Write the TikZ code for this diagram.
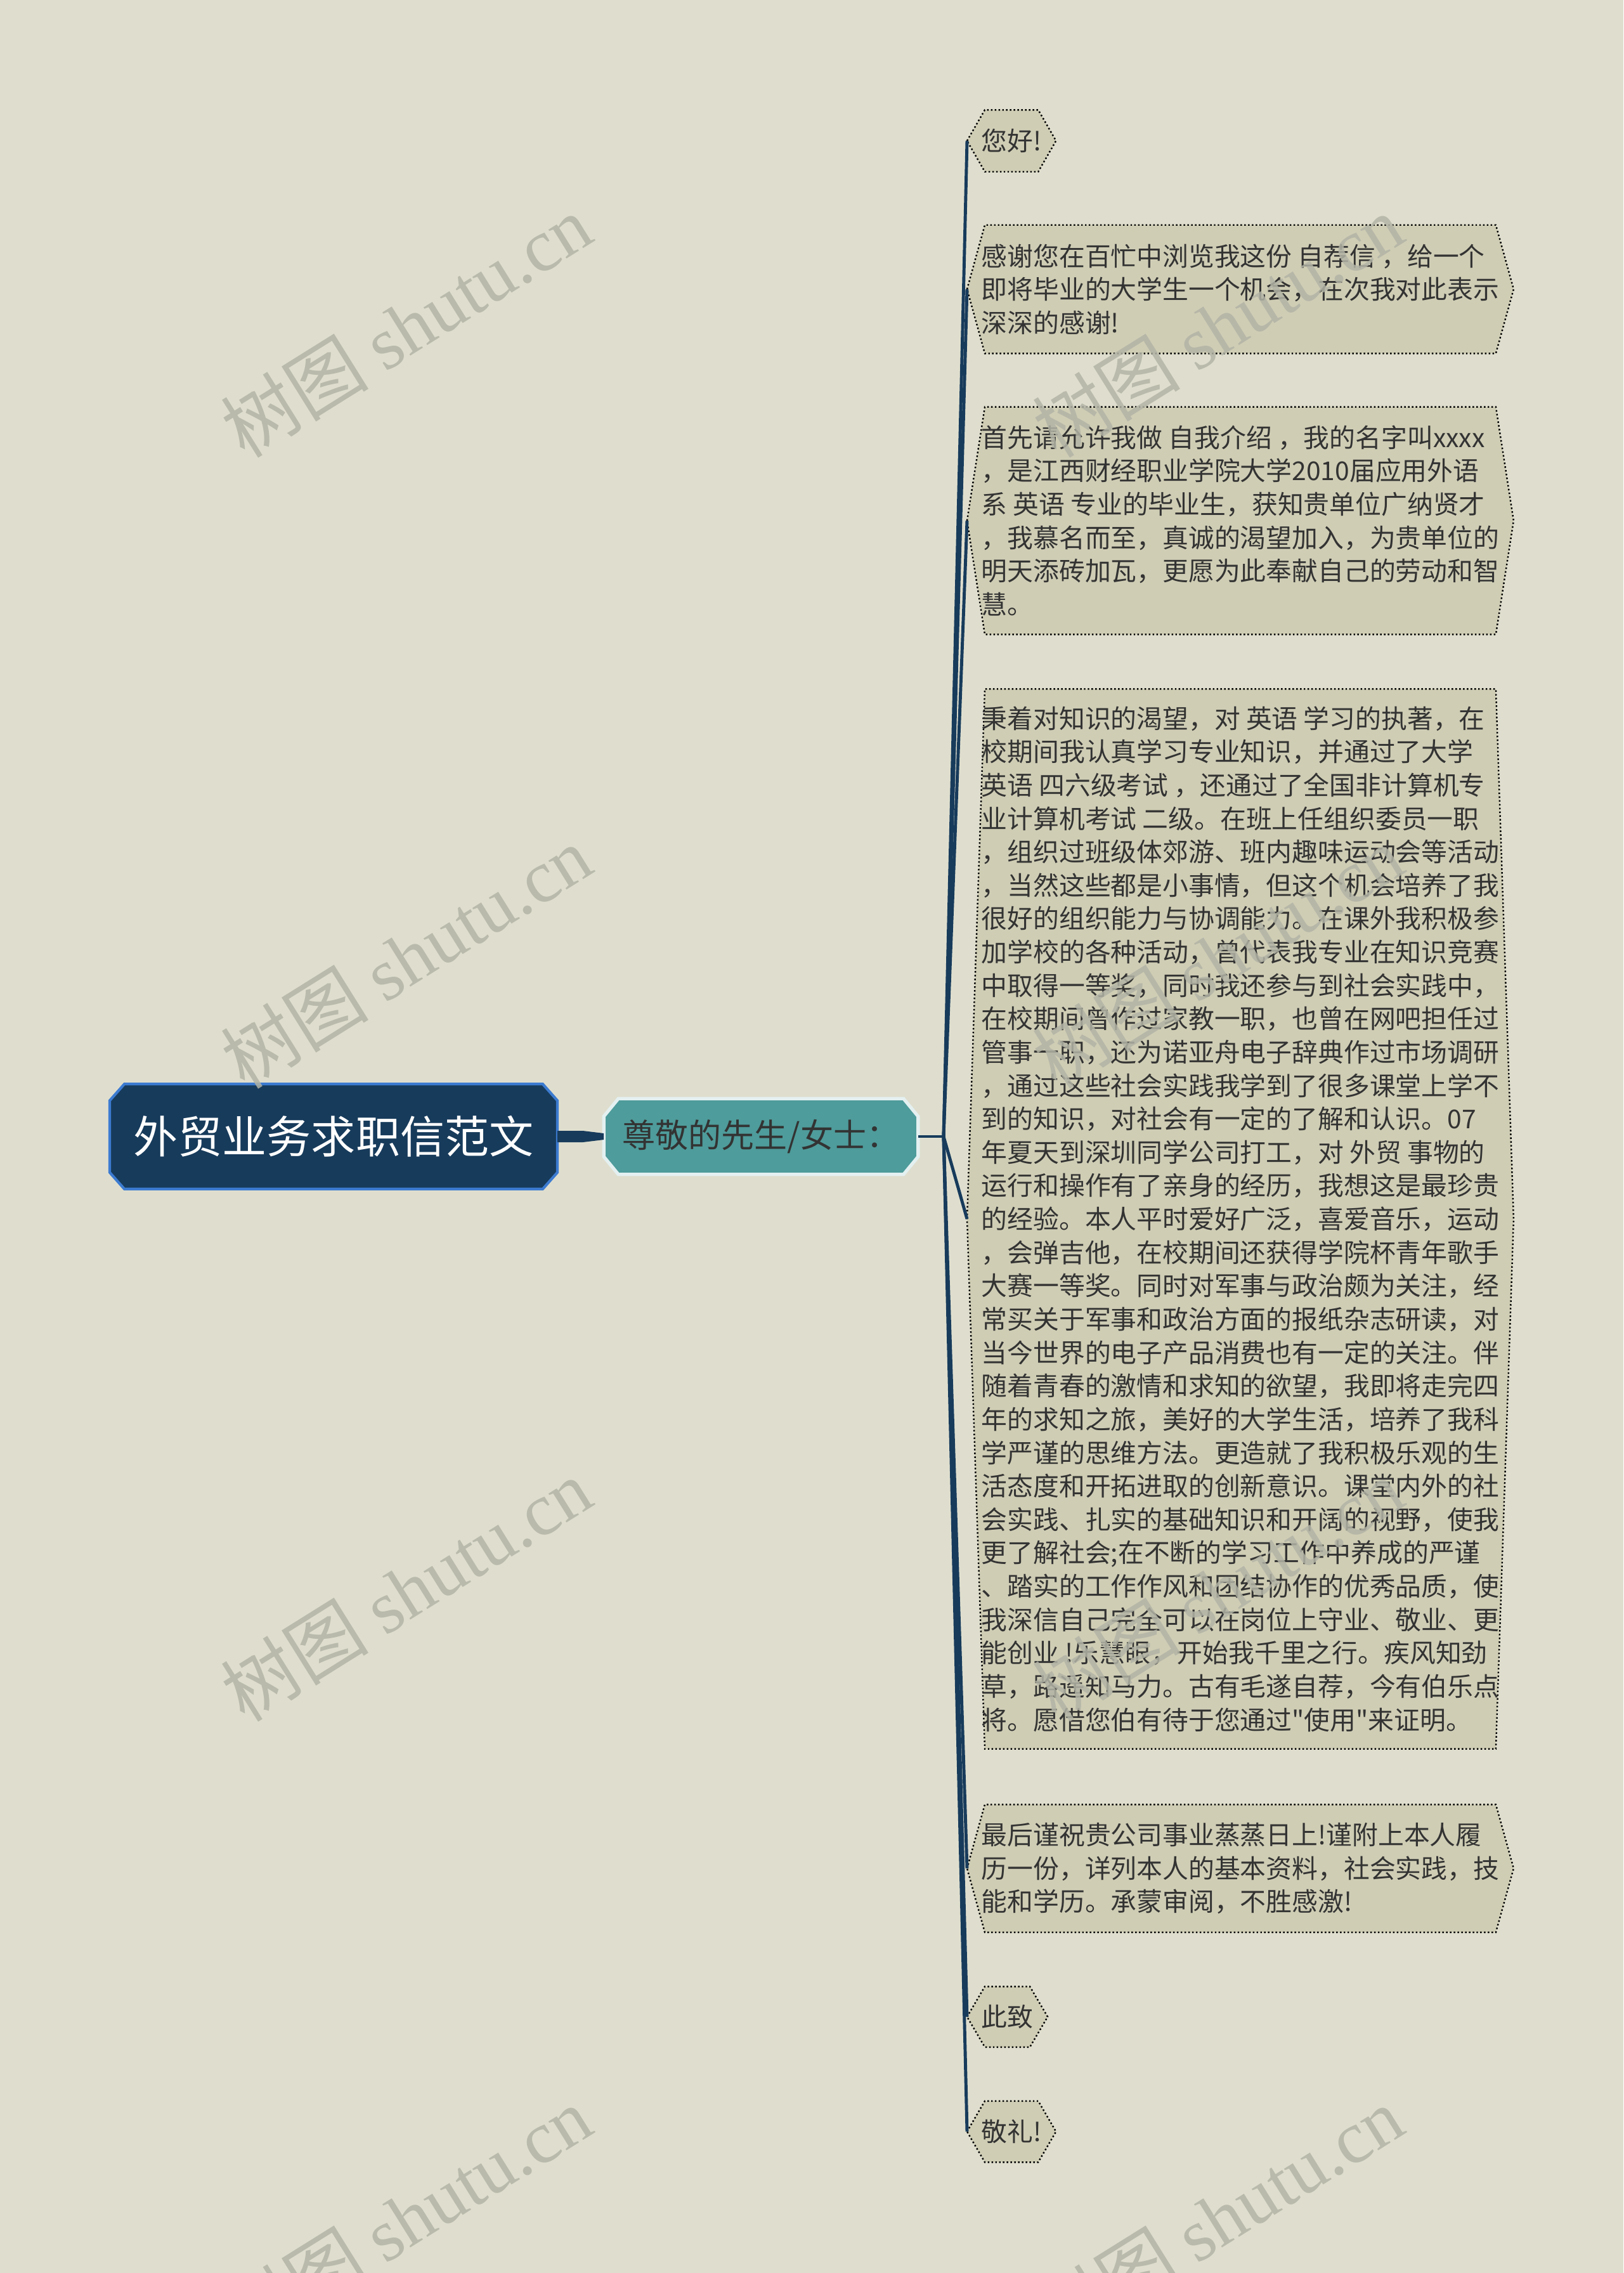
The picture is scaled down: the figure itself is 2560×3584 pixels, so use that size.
\documentclass[tikz,border=0pt]{standalone}
\usepackage{fontspec}
\setmainfont{Noto Sans CJK SC}[Ligatures=TeXOff]
\newfontfamily\wmfont{Liberation Serif}
\usetikzlibrary{backgrounds}

\definecolor{paper}{HTML}{DFDECE}
\definecolor{navy}{HTML}{173B5B}
\definecolor{rimblue}{HTML}{3C7BD1}
\definecolor{sea}{HTML}{4E9C9B}
\definecolor{leaffill}{HTML}{CFCDB4}
\definecolor{ink}{HTML}{333333}
\definecolor{wmgray}{HTML}{B3B4A6}

% octagon round a node: name, corner width, corner height
\newcommand\cutbox[3]{([xshift=#2]#1.north west) -- ([xshift=-#2]#1.north east)
  -- ([yshift=-#3]#1.north east) -- ([yshift=#3]#1.south east)
  -- ([xshift=-#2]#1.south east) -- ([xshift=#2]#1.south west)
  -- ([yshift=#3]#1.south west) -- ([yshift=-#3]#1.north west) -- cycle}

\begin{document}
\begin{tikzpicture}[
        x=0.01cm, y=-0.01cm,
        topic/.style={minimum width=7.04cm, minimum height=1.64cm, inner sep=0pt,
          text=white, font=\fontsize{0.70cm}{0.8cm}\selectfont},
        subtopic/.style={minimum width=4.94cm, minimum height=1.18cm, inner sep=0pt,
          text=ink, font=\fontsize{0.52cm}{0.6cm}\selectfont},
        leaf/.style={anchor=west, inner xsep=0.22cm, inner ysep=0pt, align=left,
          text=ink, font=\fontsize{0.408cm}{0.526cm}\selectfont},
        leafrim/.style={fill=leaffill, draw=black, densely dotted, line width=0.7pt},
        branch/.style={draw=navy, line width=1.4pt},
        stamp/.style={rotate=32, text=wmgray, opacity=0.85,
          font=\fontsize{1.17cm}{1.3cm}\selectfont}]

      \useasboundingbox (0,0) rectangle (2560,3584);

      \node[topic] (root) at (526,1792) {外贸业务求职信范文};
      \node[subtopic] (sir) at (1200,1792) {尊敬的先生/女士：};
      \coordinate (hub) at (1488,1792);

      \node[leaf, minimum height=0.96cm] (c1) at (1525,222) {您好!};
      \node[leaf, minimum height=2.01cm] (c2) at (1525,456) {感谢您在百忙中浏览我这份 自荐信 ，给一个\\即将毕业的大学生一个机会，在次我对此表示\\深深的感谢!};
      \node[leaf, minimum height=3.57cm] (c3) at (1525,821) {首先请允许我做 自我介绍 ，我的名字叫xxxx\\，是江西财经职业学院大学2010届应用外语\\系 英语 专业的毕业生，获知贵单位广纳贤才\\，我慕名而至，真诚的渴望加入，为贵单位的\\明天添砖加瓦，更愿为此奉献自己的劳动和智\\慧。};
      \node[leaf, minimum height=16.69cm] (c4) at (1525,1922) {秉着对知识的渴望，对 英语 学习的执著，在\\校期间我认真学习专业知识，并通过了大学\\英语 四六级考试 ，还通过了全国非计算机专\\业计算机考试 二级。在班上任组织委员一职\\，组织过班级体郊游、班内趣味运动会等活动\\，当然这些都是小事情，但这个机会培养了我\\很好的组织能力与协调能力。在课外我积极参\\加学校的各种活动，曾代表我专业在知识竞赛\\中取得一等奖，同时我还参与到社会实践中，\\在校期间曾作过家教一职，也曾在网吧担任过\\管事一职，还为诺亚舟电子辞典作过市场调研\\，通过这些社会实践我学到了很多课堂上学不\\到的知识，对社会有一定的了解和认识。07\\年夏天到深圳同学公司打工，对 外贸 事物的\\运行和操作有了亲身的经历，我想这是最珍贵\\的经验。本人平时爱好广泛，喜爱音乐，运动\\，会弹吉他，在校期间还获得学院杯青年歌手\\大赛一等奖。同时对军事与政治颇为关注，经\\常买关于军事和政治方面的报纸杂志研读，对\\当今世界的电子产品消费也有一定的关注。伴\\随着青春的激情和求知的欲望，我即将走完四\\年的求知之旅，美好的大学生活，培养了我科\\学严谨的思维方法。更造就了我积极乐观的生\\活态度和开拓进取的创新意识。课堂内外的社\\会实践、扎实的基础知识和开阔的视野，使我\\更了解社会;在不断的学习工作中养成的严谨\\、踏实的工作作风和团结协作的优秀品质，使\\我深信自己完全可以在岗位上守业、敬业、更\\能创业 !乐慧眼，开始我千里之行。疾风知劲\\草，路遥知马力。古有毛遂自荐，今有伯乐点\\将。愿借您伯有待于您通过"使用"来证明。};
      \node[leaf, minimum height=2.00cm] (c5) at (1525,2946) {最后谨祝贵公司事业蒸蒸日上!谨附上本人履\\历一份，详列本人的基本资料，社会实践，技\\能和学历。承蒙审阅，不胜感激!};
      \node[leaf, minimum height=0.94cm] (c6) at (1525,3180) {此致};
      \node[leaf, minimum height=0.95cm] (c7) at (1525,3361) {敬礼!};

      \begin{scope}[on background layer]
        \fill[paper] (0,0) rectangle (2560,3584);
        \draw[fill=navy, draw=rimblue, line width=1.2pt] \cutbox{root}{0.23cm}{0.26cm};
        \draw[fill=sea, draw=white!85!sea, line width=1.5pt] \cutbox{sir}{0.23cm}{0.28cm};
        \foreach \n in {c1, c2, c3, c4, c5, c6, c7}
          \draw[leafrim] (\n.west) -- ([xshift=0.28cm]\n.north west)
            -- ([xshift=-0.28cm]\n.north east) -- (\n.east)
            -- ([xshift=-0.28cm]\n.south east) -- ([xshift=0.28cm]\n.south west) -- cycle;
      \end{scope}

      % thick link from the title to the greeting
      \fill[navy] ([yshift=0.09cm]root.east) -- ([xshift=-0.33cm,yshift=0.09cm]sir.west)
        -- ([yshift=0.05cm]sir.west) -- ([yshift=-0.05cm]sir.west)
        -- ([xshift=-0.33cm,yshift=-0.09cm]sir.west) -- ([yshift=-0.09cm]root.east) -- cycle;

      \draw[branch] (sir.east) -- (hub);
      \foreach \t in {c1, c2, c3, c4, c5, c6, c7}
        \draw[branch] (hub) -- (\t.west);

      \foreach \wx in {640, 1920}
        \foreach \wy in {514, 1509, 2507, 3497}
          \node[stamp] (wm-\wx-\wy) at (\wx,\wy) {树图 {\wmfont shutu.cn}};

    \end{tikzpicture}
\end{document}
